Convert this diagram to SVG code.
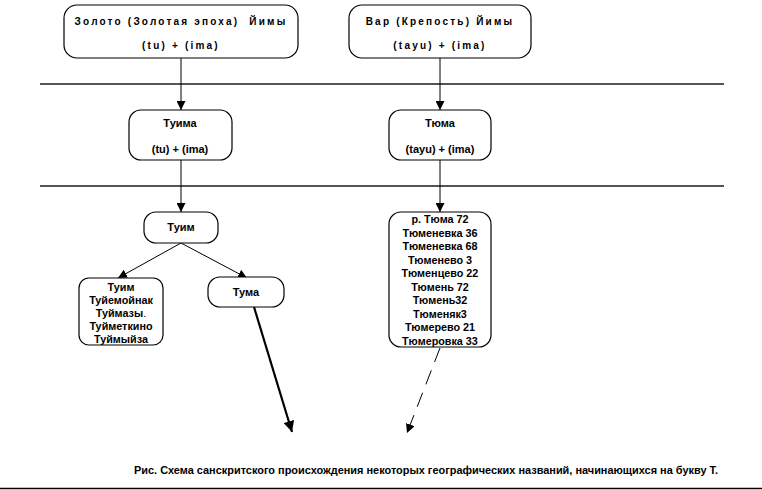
<svg xmlns="http://www.w3.org/2000/svg" width="762" height="490" viewBox="0 0 762 490">
<defs>
<style>
.box{fill:#fff;stroke:#000;stroke-width:1.2}
.t{font-family:"Liberation Sans",Arial,sans-serif;font-weight:bold;font-size:11px;fill:#000;text-anchor:middle}
.l{font-size:10.8px}
.ts{font-family:"Liberation Sans",Arial,sans-serif;font-weight:bold;font-size:10px;fill:#000;text-anchor:middle;letter-spacing:2.2px;white-space:pre}
.c{stroke:#000;stroke-width:1;fill:none}
.sep{stroke:#555;stroke-width:2}
</style>
<marker id="ah" viewBox="0 0 10 10" refX="10" refY="5" markerWidth="9" markerHeight="9" markerUnits="userSpaceOnUse" orient="auto">
<path d="M0,0 L10,5 L0,10 z" fill="#000"/>
</marker>
<marker id="ah2" viewBox="0 0 10 10" refX="10" refY="5" markerWidth="5" markerHeight="5" orient="auto">
<path d="M0,0 L10,5 L0,10 z" fill="#000"/>
</marker>
</defs>
<rect width="762" height="490" fill="#fff"/>
<g id="separators">
<line class="sep" x1="40" y1="84" x2="724" y2="84"/>
<line class="sep" x1="40" y1="186" x2="724" y2="186" stroke="#777"/>
<line x1="0" y1="488.5" x2="762" y2="488.5" stroke="#000" stroke-width="1.5"/>
</g>
<g id="connectors">
<line class="c" x1="181" y1="58" x2="181" y2="110" marker-end="url(#ah)"/>
<line class="c" x1="440" y1="58" x2="440" y2="110" marker-end="url(#ah)"/>
<line class="c" x1="181" y1="160" x2="181" y2="212" marker-end="url(#ah)"/>
<line class="c" x1="440" y1="160" x2="440" y2="212" marker-end="url(#ah)"/>
<line class="c" x1="181" y1="243" x2="118" y2="278" marker-end="url(#ah)"/>
<line class="c" x1="181" y1="243" x2="247" y2="278" marker-end="url(#ah)"/>
<line x1="254" y1="307" x2="292" y2="432" stroke="#000" stroke-width="2.2" marker-end="url(#ah2)"/>
<line x1="440" y1="348" x2="407" y2="433" stroke="#000" stroke-width="1" stroke-dasharray="15,9" marker-end="url(#ah)"/>
</g>
<g id="n1">
<rect class="box" x="64" y="5" width="234" height="53" rx="13"/>
<text class="ts" x="181" y="25" xml:space="preserve">Золото (Золотая эпоха)  Йимы</text>
<text class="ts" x="181" y="49">(tu) + (ima)</text>
</g>
<g id="n2">
<rect class="box" x="349" y="5" width="182" height="53" rx="13"/>
<text class="ts" x="440" y="25">Вар (Крепость) Йимы</text>
<text class="ts" x="440" y="49">(tayu) + (ima)</text>
</g>
<g id="n3">
<rect class="box" x="129" y="110" width="103" height="50" rx="12"/>
<text class="t" x="180" y="127">Туима</text>
<text class="t" x="180" y="153">(tu) + (ima)</text>
</g>
<g id="n4">
<rect class="box" x="389" y="110" width="102" height="50" rx="12"/>
<text class="t" x="440" y="127">Тюма</text>
<text class="t" x="440" y="153">(tayu) + (ima)</text>
</g>
<g id="n5">
<rect class="box" x="144" y="212" width="74" height="31" rx="12"/>
<text class="t" x="181" y="231">Туим</text>
</g>
<g id="n6">
<rect class="box" x="79" y="278" width="84" height="67" rx="10"/>
<text class="t l" x="121" y="291">Туим</text>
<text class="t l" x="121" y="304">Туйемойнак</text>
<text class="t l" x="121" y="317">Туймазы<tspan font-weight="normal">.</tspan></text>
<text class="t l" x="121" y="330">Туйметкино</text>
<text class="t l" x="121" y="343">Туймыйза</text>
</g>
<g id="n7">
<rect class="box" x="208" y="277" width="76" height="30" rx="12"/>
<text class="t" x="246" y="296">Тума</text>
</g>
<g id="n8">
<rect class="box" x="389" y="212" width="102" height="135" rx="12"/>
<text class="t l" x="440" y="223">р. Тюма 72</text>
<text class="t l" x="440" y="236.5">Тюменевка 36</text>
<text class="t l" x="440" y="250">Тюменевка 68</text>
<text class="t l" x="440" y="263.5">Тюменево 3</text>
<text class="t l" x="440" y="277">Тюменцево 22</text>
<text class="t l" x="440" y="290.5">Тюмень 72</text>
<text class="t l" x="440" y="304">Тюмень32</text>
<text class="t l" x="440" y="317.5">Тюменяк3</text>
<text class="t l" x="440" y="331">Тюмерево 21</text>
<text class="t l" x="440" y="344.5">Тюмеровка 33</text>
</g>
<g id="caption">
<text class="t" x="426" y="474" font-size="10" textLength="584" lengthAdjust="spacingAndGlyphs">Рис. Схема санскритского происхождения некоторых географических названий, начинающихся на букву Т.</text>
</g>
</svg>
